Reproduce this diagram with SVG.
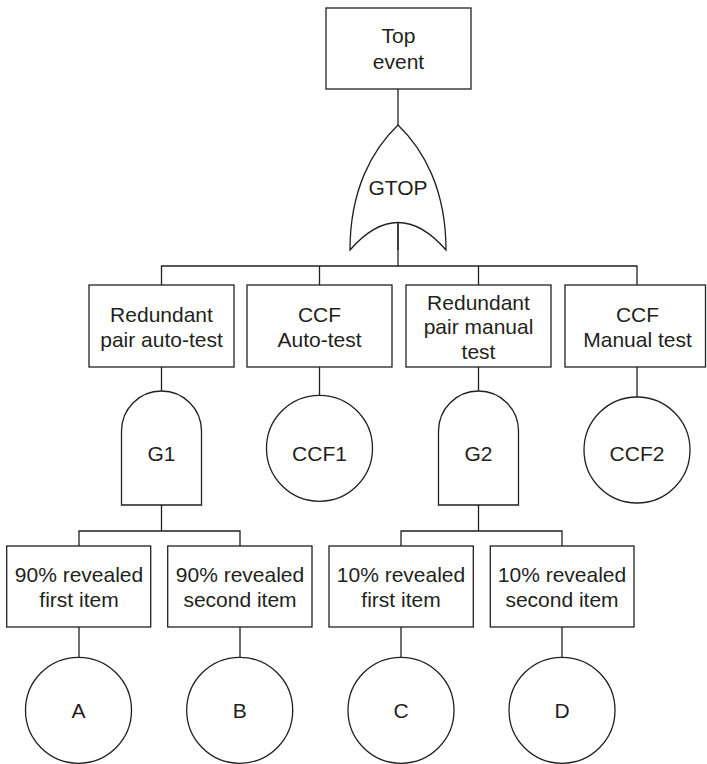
<svg xmlns="http://www.w3.org/2000/svg" width="707" height="764" viewBox="0 0 707 764">
  <style>
    .shape { fill: #ffffff; stroke: #231f20; stroke-width: 1.3; }
    .wire { fill: none; stroke: #231f20; stroke-width: 1.3; }
    text { font-family: "Liberation Sans", Arial, sans-serif; font-size: 21px; fill: #231f20; text-anchor: middle; }
  </style>
  <rect width="707" height="764" fill="#ffffff"/>

  <!-- connectors -->
  <g id="connectors" class="wire">
    <path d="M398,89 V125"/>
    <path d="M398,222 V266"/>
    <path d="M161.5,285 V266 H637 V285"/>
    <path d="M319.5,266 V285"/>
    <path d="M478.5,266 V285"/>
    <path d="M161.5,367 V391"/>
    <path d="M319.5,367 V395"/>
    <path d="M478.5,367 V391"/>
    <path d="M637,367 V397"/>
    <path d="M161.5,505 V531"/>
    <path d="M79,546 V531 H240 V546"/>
    <path d="M478.5,505 V531"/>
    <path d="M401,546 V531 H562 V546"/>
    <path d="M79,627 V657"/>
    <path d="M240,627 V657"/>
    <path d="M401,627 V657"/>
    <path d="M562,627 V657"/>
  </g>

  <!-- top event -->
  <g id="top-event">
    <rect class="shape" x="326" y="8" width="145" height="81"/>
    <text x="398.5" y="43">Top</text>
    <text x="398.5" y="69">event</text>
  </g>

  <!-- OR gate -->
  <g id="gtop">
    <path class="shape" d="M350,250 C350,190 372,150 398,125 C424,150 446,190 446,250 Q398,195 350,250 Z"/>
    <path class="wire" d="M398,222 V250"/>
    <text x="398" y="195">GTOP</text>
  </g>

  <!-- second level events -->
  <g id="redundant-auto">
    <rect class="shape" x="89" y="285" width="145" height="82"/>
    <text x="161.5" y="321.5">Redundant</text>
    <text x="161.5" y="346.5">pair auto-test</text>
  </g>
  <g id="ccf-auto">
    <rect class="shape" x="247" y="285" width="145" height="82"/>
    <text x="319.5" y="321.5">CCF</text>
    <text x="319.5" y="346.5">Auto-test</text>
  </g>
  <g id="redundant-manual">
    <rect class="shape" x="406" y="285" width="145" height="82"/>
    <text x="478.5" y="309.5">Redundant</text>
    <text x="478.5" y="334">pair manual</text>
    <text x="478.5" y="359">test</text>
  </g>
  <g id="ccf-manual">
    <rect class="shape" x="565" y="285" width="140.5" height="82"/>
    <text x="637.5" y="321.5">CCF</text>
    <text x="637.5" y="346.5">Manual test</text>
  </g>

  <!-- AND gates -->
  <g id="g1">
    <path class="shape" d="M121.5,505 V431 A40,40 0 0 1 201.5,431 V505 Z"/>
    <text x="161.5" y="460.5">G1</text>
  </g>
  <g id="g2">
    <path class="shape" d="M438.5,505 V431 A40,40 0 0 1 518.5,431 V505 Z"/>
    <text x="478.5" y="460.5">G2</text>
  </g>

  <!-- common cause basic events -->
  <g id="ccf1">
    <circle class="shape" cx="319.5" cy="448.3" r="53"/>
    <text x="319.5" y="460.5">CCF1</text>
  </g>
  <g id="ccf2">
    <circle class="shape" cx="637" cy="450" r="53"/>
    <text x="637" y="460.5">CCF2</text>
  </g>

  <!-- third level events -->
  <g id="rev90-first">
    <rect class="shape" x="6.7" y="546" width="144" height="81"/>
    <text x="79" y="581.5">90% revealed</text>
    <text x="79" y="606.5">first item</text>
  </g>
  <g id="rev90-second">
    <rect class="shape" x="167.7" y="546" width="144.3" height="81"/>
    <text x="240" y="581.5">90% revealed</text>
    <text x="240" y="606.5">second item</text>
  </g>
  <g id="rev10-first">
    <rect class="shape" x="329" y="546" width="144.3" height="81"/>
    <text x="401" y="581.5">10% revealed</text>
    <text x="401" y="606.5">first item</text>
  </g>
  <g id="rev10-second">
    <rect class="shape" x="490.3" y="546" width="143.7" height="81"/>
    <text x="562" y="581.5">10% revealed</text>
    <text x="562" y="606.5">second item</text>
  </g>

  <!-- basic events -->
  <g id="a">
    <circle class="shape" cx="78.5" cy="710.3" r="53"/>
    <text x="78.5" y="718">A</text>
  </g>
  <g id="b">
    <circle class="shape" cx="239.7" cy="710.3" r="53"/>
    <text x="239.7" y="718">B</text>
  </g>
  <g id="c">
    <circle class="shape" cx="401" cy="710.3" r="53"/>
    <text x="401" y="718">C</text>
  </g>
  <g id="d">
    <circle class="shape" cx="562" cy="710.3" r="53"/>
    <text x="562" y="718">D</text>
  </g>
</svg>
